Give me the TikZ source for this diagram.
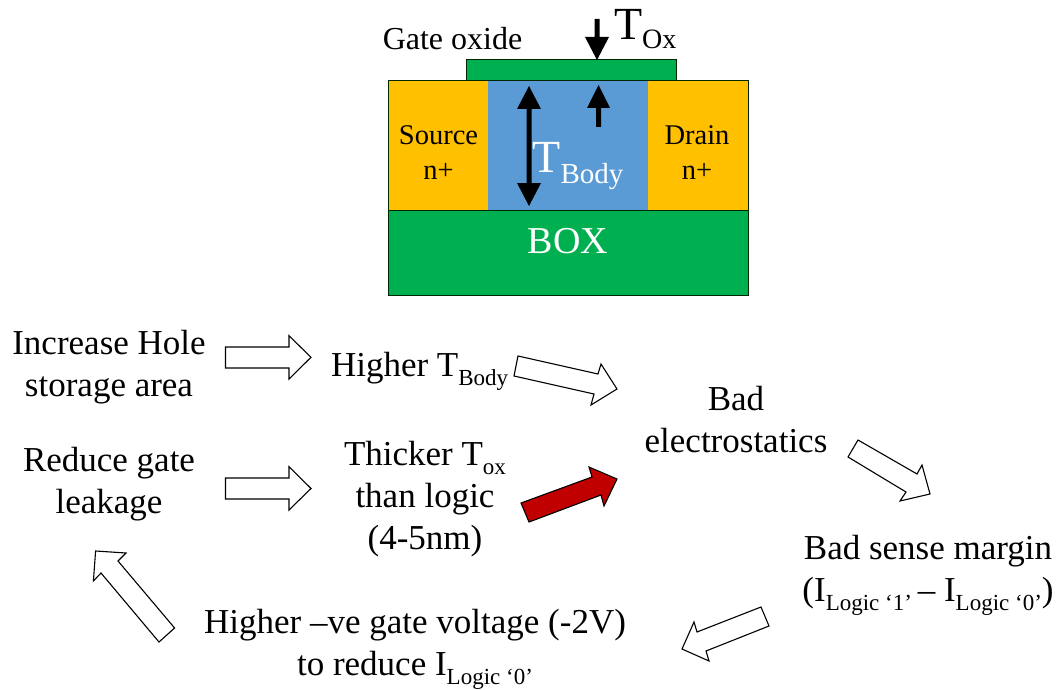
\documentclass[tikz,border=0pt]{standalone}
\usepackage{fontspec}
\setmainfont{Liberation Serif}
\definecolor{oxgreen}{HTML}{00B050}
\definecolor{srcgold}{HTML}{FFC000}
\definecolor{bodyblue}{HTML}{5B9BD5}
\definecolor{hotred}{HTML}{C00000}
\newcommand{\fsz}[1]{\fontsize{#1}{#1}\selectfont}
\newcommand{\lowsub}[1]{{\fsz{23}\raisebox{-9pt}{#1}}}
\tikzset{
  region/.style={draw=black!85!green,line width=1pt},
  label/.style={inner sep=0pt,outer sep=0pt,anchor=base,align=center,font=\fontsize{35}{42}\selectfont},
  smalllabel/.style={label,font=\fontsize{28.5}{35}\selectfont},
  blockarrow/.style={draw=black,line width=1.1pt,fill=white,line join=miter},
  dimarrow/.style={fill=black,draw=none}
}
\begin{document}
\begin{tikzpicture}[x=1pt,y=-1pt]
\useasboundingbox (0,0) rectangle (1060,690);
% device
\path[region,fill=oxgreen] (466,60) rectangle (676,81);
\fill[srcgold] (388,81) rectangle (488,210);
\fill[srcgold] (648,81) rectangle (748,210);
\fill[bodyblue] (488,81) rectangle (648,210);
\draw[region] (388,81) rectangle (748,210);
\path[region,fill=oxgreen] (388,210) rectangle (748,295);
% dimension arrows
\fill[dimarrow] (594.5,19) -- (599.5,19) -- (599.5,37) -- (609,37) -- (597,60) -- (585,37) -- (594.5,37) -- cycle;
\fill[dimarrow] (596,127) -- (601,127) -- (601,108) -- (610,108) -- (598.5,85) -- (587,108) -- (596,108) -- cycle;
\fill[dimarrow] (526.5,109) -- (531.5,109) -- (531.5,183) -- (541,183) -- (529,206) -- (517,183) -- (526.5,183) -- (526.5,109) -- (517,109) -- (529,86) -- (541,109) -- cycle;
% device labels
\node[label,font=\fsz{32}] (gox) at (452.5,50) {Gate oxide};
\node[label,anchor=base west,font=\fsz{46}] (tox) at (614,39.5) {T{\fsz{28}\raisebox{-9.5pt}{Ox}}};
\node[label,anchor=base west,font=\fsz{46},text=white] (tbody) at (532.5,172) {T{\fsz{29}\raisebox{-11pt}{Body}}};
\node[smalllabel] (src) at (438.5,179) {Source\\n+};
\node[smalllabel] (drn) at (697,179) {Drain\\n+};
\node[label,font=\fsz{38},text=white] (boxl) at (568,253.5) {BOX};
% flow labels
\node[label] (hole) at (109,396) {Increase Hole\\storage area};
\node[label,anchor=base west] (tb) at (331,376) {Higher T\lowsub{Body}};
\node[label] (bad) at (736,452) {Bad\\electrostatics};
\node[label] (gate) at (109,513) {Reduce gate\\leakage};
\node[label] (thick) at (425,549) {Thicker T\lowsub{ox}\\than logic\\(4-5nm)};
\node[label] (sense) at (928,601) {Bad sense margin\\(I\lowsub{Logic ‘1’}\,– I\lowsub{Logic ‘0’})};
\node[label] (neg) at (415,675) {Higher –ve gate voltage (-2V)\\to reduce I\lowsub{Logic ‘0’}};
% block arrows
\draw[blockarrow] (225.5,347) -- (289,347) -- (289,335.7) -- (311,357.3) -- (289,379) -- (289,368) -- (225.5,368) -- cycle;
\draw[blockarrow] (225.5,478) -- (289,478) -- (289,466.7) -- (311,488.5) -- (289,510) -- (289,499) -- (225.5,499) -- cycle;
\draw[blockarrow] (518,356) -- (598,374) -- (601,364) -- (617,389) -- (591,405) -- (594,394) -- (514,376) -- cycle;
\draw[blockarrow,fill=hotred] (521,503) -- (592,477) -- (589,467) -- (617,479) -- (604,506) -- (601,495) -- (529,522) -- cycle;
\draw[blockarrow] (858,440) -- (917,474) -- (922,465) -- (930,494) -- (900,501) -- (906,492) -- (848,457) -- cycle;
\draw[blockarrow] (761,607) -- (697,632) -- (694,622) -- (682,649) -- (709,661) -- (706,651) -- (769,626) -- cycle;
\draw[blockarrow] (95.6,551) -- (126,553) -- (118,561) -- (174.6,628) -- (159,642) -- (101,573) -- (93.4,581) -- cycle;
\end{tikzpicture}
\end{document}
